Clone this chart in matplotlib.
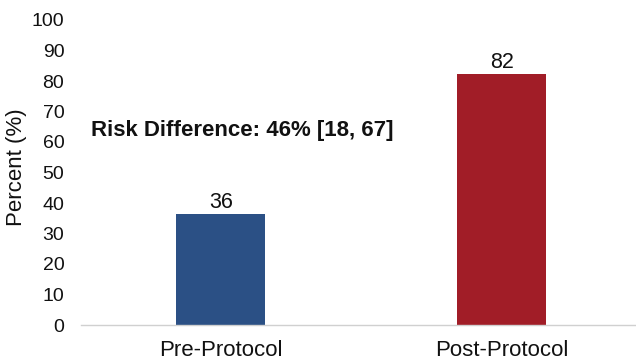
import matplotlib
matplotlib.use("Agg")
import matplotlib.pyplot as plt

# data
categories = ["Pre-Protocol", "Post-Protocol"]
percents = [36.5, 82.3]
value_labels = ["36", "82"]
bar_colors = ["#2B5085", "#A11D27"]
annotation = "Risk Difference: 46% [18, 67]"

plt.rcParams["font.family"] = ["Liberation Sans", "DejaVu Sans"]

W, H = 636, 362
fig = plt.figure(figsize=(W / 100, H / 100), dpi=100)
ax = fig.add_axes([81 / W, (H - 325) / H, (636 - 81) / W, (325 - 20) / H])

x = list(range(len(categories)))
bars = ax.bar(x, percents, width=0.317, color=bar_colors, zorder=2)
for b, lab in zip(bars, value_labels):
    ax.text(b.get_x() + b.get_width() / 2, b.get_height() + 2.0, lab,
            ha="center", va="baseline", fontsize=15.5, color="#111111")

ax.set_xlim(-0.498, 1.477)
ax.set_ylim(0, 100)
ax.set_yticks(range(0, 101, 10))
ax.set_xticks(x)
ax.set_xticklabels(categories, fontsize=16)
ax.tick_params(axis="both", length=0, colors="#111111")
ax.tick_params(axis="y", labelsize=14, pad=12)
ax.tick_params(axis="x", pad=11)
for s in ("top", "right", "left"):
    ax.spines[s].set_visible(False)
ax.spines["bottom"].set_color("#D0D0D0")
ax.spines["bottom"].set_linewidth(1)

fig.text(17 / W, (H - 167) / H, "Percent (%)", rotation=90, ha="center",
         va="center", fontsize=16, color="#111111")

fig.text(91 / W, (H - 136) / H, annotation, ha="left", va="baseline",
         fontsize=16, fontweight="bold", color="#111111")

fig.savefig("out.png", dpi=100)
